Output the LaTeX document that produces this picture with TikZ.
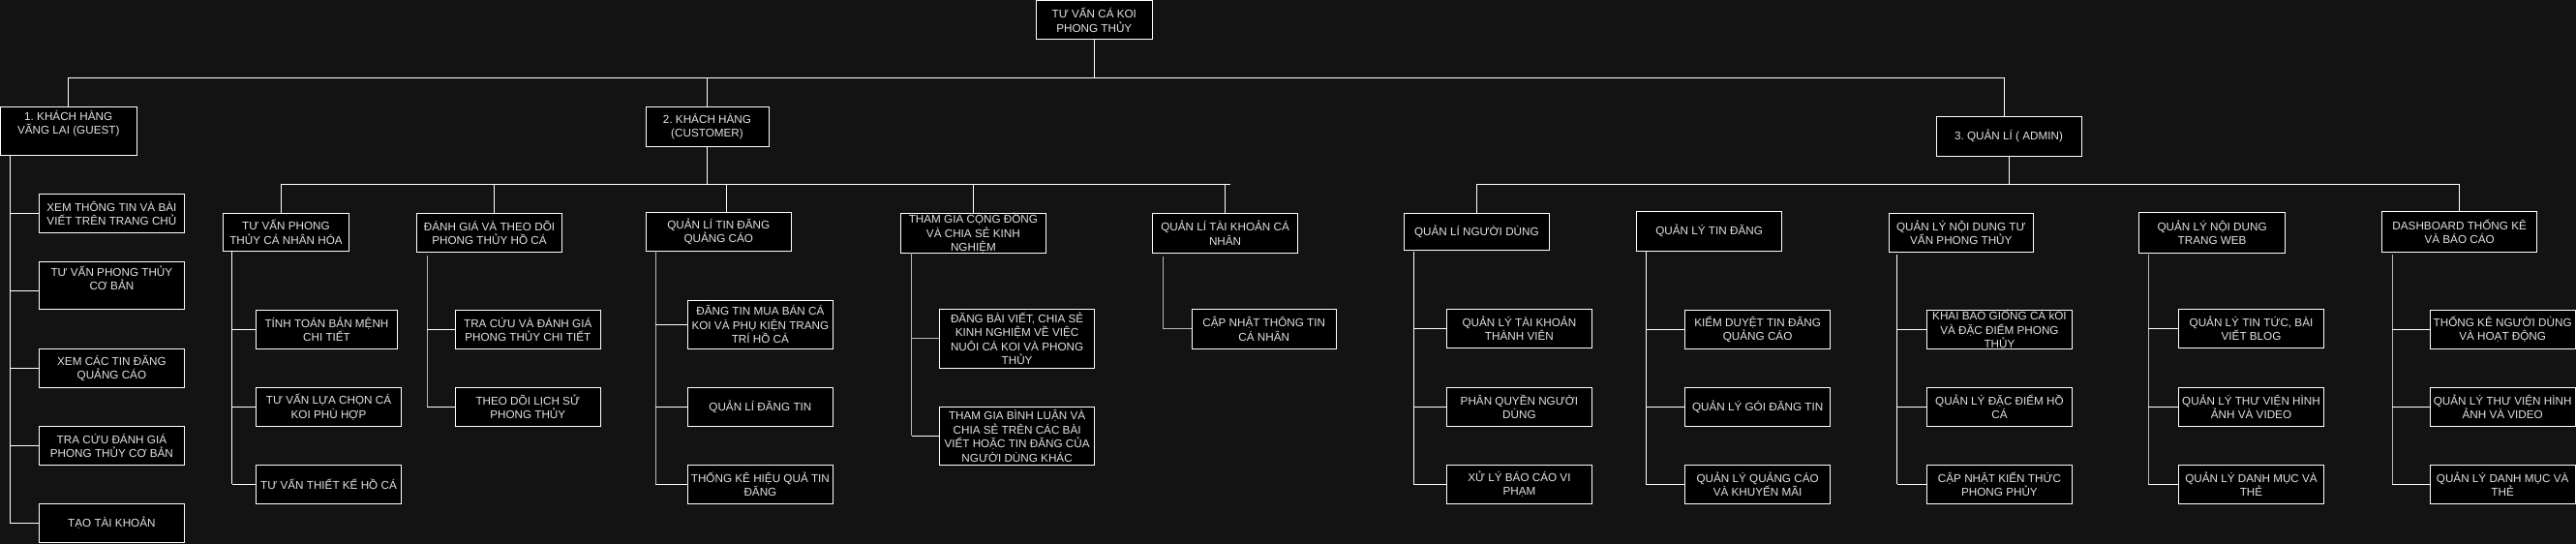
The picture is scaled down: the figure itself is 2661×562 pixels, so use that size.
\documentclass[tikz,border=0pt]{standalone}
\usepackage{fontspec}
\setmainfont{Liberation Sans}
\frenchspacing
\definecolor{bgc}{HTML}{131313}
\definecolor{txc}{HTML}{E2E2E2}
\definecolor{gln}{HTML}{B8B8B8}
\tikzset{
  bx/.style={draw=white, fill=black, line width=1pt, inner sep=0pt, outer sep=0pt, align=center, text=txc, font=\fontsize{11.7}{14.5}\selectfont\frenchspacing},
  tx/.style={inner sep=0pt, align=center, text=txc, font=\fontsize{11.7}{14.5}\selectfont\frenchspacing},
  ln/.style={draw=white, line width=1pt},
  gl/.style={draw=gln, line width=1pt}
}
\newcommand\bxn[6]{\node[bx, minimum width={(#4)-(#2)}, minimum height={(#5)-(#3)}] (#1) at ({((#2)+(#4))/2},{-((#3)+(#5))/2}) {#6};}
\begin{document}
\begin{tikzpicture}[x=1pt,y=1pt]
\useasboundingbox (0,0) rectangle (2661,-562);
\fill[bgc] (0,0) rectangle (2661,-562);

% ---- level 0 / 1
\bxn{root}{1070.3}{0.5}{1190.3}{40.7}{TƯ VẤN CÁ KOI\\PHONG THỦY}
\bxn{b1}{0.5}{110}{141}{160}{}
\node[tx] (b1t) at (70.75,-127.5) {1. KHÁCH HÀNG\\VÃNG LAI (GUEST)};
\bxn{b2}{667}{110}{794}{151}{2. KHÁCH HÀNG\\(CUSTOMER)}
\bxn{b3}{2000}{120}{2150}{161}{3. QUẢN LÍ ( ADMIN)}

\coordinate (busL) at (70.5,-80);
\coordinate (busR) at (2070.6,-80);
\draw[ln] (root.south) -- (root.south |- busL);
\draw[ln] (busL) -- (busR);
\draw[ln] (busL) -- (busL |- b1.north);
\draw[ln] (b2.north |- busL) -- (b2.north);
\draw[ln] (busR) -- (busR |- b3.north);

% ---- guest children
\bxn{g1}{40.2}{200}{190.6}{240.7}{XEM THÔNG TIN VÀ BÀI\\VIẾT TRÊN TRANG CHỦ}
\bxn{g2}{40.2}{270}{190.6}{319.3}{}
\node[tx] (g2t) at (115.4,-287.2) {TƯ VẤN PHONG THỦY\\CƠ BẢN};
\bxn{g3}{40.2}{360.3}{190.6}{400.7}{XEM CÁC TIN ĐĂNG\\QUẢNG CÁO}
\bxn{g4}{40.2}{440.3}{190.6}{480.7}{TRA CỨU ĐÁNH GIÁ\\PHONG THỦY CƠ BẢN}
\bxn{g5}{40.2}{520.3}{190.6}{560.7}{TẠO TÀI KHOẢN}
\draw[ln] ([xshift=9.8]b1.south west) coordinate (t1) -- (t1 |- g5.west);
\draw[ln] (g1.west) -- (g1.west -| t1);
\draw[ln] ([yshift=-6]g2.west) -- ([yshift=-6]g2.west -| t1);
\draw[ln] (g3.west) -- (g3.west -| t1);
\draw[ln] (g4.west) -- (g4.west -| t1);
\draw[ln] (g5.west) -- (g5.west -| t1);

% ---- customer level 2
\bxn{c1}{230.3}{220.3}{360.7}{259.7}{TƯ VẤN PHONG\\THỦY CÁ NHÂN HÓA}
\bxn{c2}{430.3}{220.3}{580.7}{260.3}{ĐÁNH GIÁ VÀ THEO DÕI\\PHONG THỦY HỒ CÁ}
\bxn{c3}{667.3}{219.3}{817.3}{259.3}{QUẢN LÍ TIN ĐĂNG\\QUẢNG CÁO}
\bxn{c4}{930.3}{220.3}{1080.5}{261.3}{THAM GIA CỘNG ĐỒNG\\VÀ CHIA SẺ KINH\\NGHIỆM}
\bxn{c5}{1190.5}{220.3}{1340.7}{261.3}{QUẢN LÍ TÀI KHOẢN CÁ\\NHÂN}

\coordinate (cbL) at (290.3,-190);
\coordinate (cbR) at (1270.5,-190);
\draw[ln] (b2.south) -- (b2.south |- cbL);
\draw[ln] (cbL) -- (cbR);
\draw[ln] (cbL) -- (cbL |- c1.north);
\draw[ln] ([xshift=4.8]c2.north |- cbL) -- ([xshift=4.8]c2.north);
\draw[ln] ([xshift=8]c3.north |- cbL) -- ([xshift=8]c3.north);
\draw[ln] (c4.north |- cbL) -- (c4.north);
\draw[ln] (c5.north |- cbL) -- (c5.north);

% c1 children
\bxn{c1a}{264.3}{320.3}{410.7}{360.3}{TÍNH TOÁN BẢN MỆNH\\CHI TIẾT}
\bxn{c1b}{264.3}{400.3}{414.7}{440.7}{TƯ VẤN LỰA CHỌN CÁ\\KOI PHÙ HỢP}
\bxn{c1c}{264.3}{480.3}{414.7}{520.3}{TƯ VẤN THIẾT KẾ HỒ CÁ}
\draw[ln] ([xshift=9.4]c1.south west) coordinate (tc1) -- (tc1 |- c1c.west);
\foreach \n in {c1a,c1b,c1c} \draw[ln] (\n.west) -- (\n.west -| tc1);

% c2 children
\bxn{c2a}{470}{320.3}{620.5}{360.7}{TRA CỨU VÀ ĐÁNH GIÁ\\PHONG THỦY CHI TIẾT}
\bxn{c2b}{470}{400.3}{620.5}{440.7}{THEO DÕI LỊCH SỬ\\PHONG THỦY}
\draw[gl] ([xshift=10.7,yshift=-3.5]c2.south west) coordinate (tc2) -- (tc2 |- c2b.west);
\foreach \n in {c2a,c2b} \draw[ln] (\n.west) -- (\n.west -| tc2);

% c3 children
\bxn{c3a}{710.3}{310.3}{860.5}{360.3}{ĐĂNG TIN MUA BÁN CÁ\\KOI VÀ PHỤ KIỆN TRANG\\TRÍ HỒ CÁ}
\bxn{c3b}{710.3}{400.3}{860.5}{440.3}{QUẢN LÍ ĐĂNG TIN}
\bxn{c3c}{710.3}{480.3}{860.5}{520.3}{THỐNG KÊ HIỆU QUẢ TIN\\ĐĂNG}
\draw[gl] ([xshift=10]c3.south west) coordinate (tc3) -- (tc3 |- c3c.west);
\foreach \n in {c3a,c3b,c3c} \draw[ln] (\n.west) -- (\n.west -| tc3);

% c4 children
\bxn{c4a}{970.5}{319.3}{1130.7}{380.3}{ĐĂNG BÀI VIẾT, CHIA SẺ\\KINH NGHIỆM VỀ VIỆC\\NUÔI CÁ KOI VÀ PHONG\\THỦY}
\bxn{c4b}{970.5}{420.3}{1130.7}{480.3}{THAM GIA BÌNH LUẬN VÀ\\CHIA SẺ TRÊN CÁC BÀI\\VIẾT HOẶC TIN ĐĂNG CỦA\\NGƯỜI DÙNG KHÁC}
\draw[gl] ([xshift=11.5]c4.south west) coordinate (tc4) -- (tc4 |- c4b.west);
\draw[gl] (c4a.west) -- (c4a.west -| tc4);
\draw[ln] (c4b.west) -- (c4b.west -| tc4);

% c5 child
\bxn{c5a}{1231}{319.3}{1380.4}{360.3}{CẬP NHẬT THÔNG TIN\\CÁ NHÂN}
\draw[gl] ([xshift=10.5,yshift=-4]c5.south west) coordinate (tc5) -- (tc5 |- c5a.west);
\draw[gl] (c5a.west) -- (c5a.west -| tc5);

% ---- admin level 2
\bxn{a1}{1450.4}{220.3}{1600.4}{258.3}{QUẢN LÍ NGƯỜI DÙNG}
\bxn{a2}{1690.6}{218.3}{1840.6}{259.3}{QUẢN LÝ TIN ĐĂNG}
\bxn{a3}{1951}{220.3}{2100.6}{260.3}{QUẢN LÝ NỘI DUNG TƯ\\VẤN PHONG THỦY}
\bxn{a4}{2209.8}{219.3}{2360.4}{261.3}{QUẢN LÝ NỘI DUNG\\TRANG WEB}
\bxn{a5}{2460.6}{218.3}{2620.7}{260.3}{DASHBOARD THỐNG KÊ\\VÀ BÁO CÁO}

\coordinate (abL) at (1525.4,-190);
\coordinate (abR) at (2540.4,-190);
\draw[ln] (b3.south) -- (b3.south |- abL);
\draw[ln] (abL) -- (abR);
\draw[ln] (abL) -- (abL |- a1.north);
\draw[ln] (abR) -- (abR |- a5.north);

% a1 children
\bxn{a1a}{1494.2}{319.3}{1644.6}{359.3}{QUẢN LÝ TÀI KHOẢN\\THÀNH VIÊN}
\bxn{a1b}{1494.2}{400.3}{1644.6}{440.3}{PHÂN QUYỀN NGƯỜI\\DÙNG}
\bxn{a1c}{1494.2}{480.3}{1644.6}{520.3}{XỬ LÝ BÁO CÁO VI\\PHẠM}
\draw[ln] ([xshift=9.9,yshift=-2]a1.south west) coordinate (ta1) -- (ta1 |- a1c.west);
\foreach \n in {a1a,a1b,a1c} \draw[ln] (\n.west) -- (\n.west -| ta1);

% a2 children
\bxn{a2a}{1740.6}{320}{1890.6}{360.7}{KIỂM DUYỆT TIN ĐĂNG\\QUẢNG CÁO}
\bxn{a2b}{1740.6}{400.3}{1890.6}{440.7}{QUẢN LÝ GÓI ĐĂNG TIN}
\bxn{a2c}{1740.6}{480.3}{1890.6}{520.3}{QUẢN LÝ QUẢNG CÁO\\VÀ KHUYẾN MÃI}
\draw[ln] ([xshift=9.8]a2.south west) coordinate (ta2) -- (ta2 |- a2c.west);
\foreach \n in {a2a,a2b,a2c} \draw[ln] (\n.west) -- (\n.west -| ta2);

% a3 children
\bxn{a3a}{1990.4}{320.3}{2140.5}{360.3}{KHAI BÁO GIỐNG CÁ kOI\\VÀ ĐẶC ĐIỂM PHONG\\THỦY}
\bxn{a3b}{1990.4}{400.3}{2140.5}{440.3}{QUẢN LÝ ĐẶC ĐIỂM HỒ\\CÁ}
\bxn{a3c}{1990.4}{480.3}{2140.5}{520.3}{CẬP NHẬT KIẾN THỨC\\PHONG PHỦY}
\draw[ln] ([xshift=8.5,yshift=-3]a3.south west) coordinate (ta3) -- (ta3 |- a3c.west);
\foreach \n in {a3a,a3b,a3c} \draw[ln] (\n.west) -- (\n.west -| ta3);

% a4 children
\bxn{a4a}{2250.2}{319.3}{2400.8}{359.3}{QUẢN LÝ TIN TỨC, BÀI\\VIẾT BLOG}
\bxn{a4b}{2250.2}{400.3}{2400.8}{440.3}{QUẢN LÝ THƯ VIỆN HÌNH\\ẢNH VÀ VIDEO}
\bxn{a4c}{2250.2}{480.3}{2400.8}{520.3}{QUẢN LÝ DANH MỤC VÀ\\THẺ}
\draw[gl] ([xshift=9.2,yshift=-2]a4.south west) coordinate (ta4) -- (ta4 |- a4c.west);
\foreach \n in {a4a,a4b,a4c} \draw[ln] (\n.west) -- (\n.west -| ta4);

% a5 children
\bxn{a5a}{2510.3}{320.3}{2660}{360.3}{THỐNG KÊ NGƯỜI DÙNG\\VÀ HOẠT ĐỘNG}
\bxn{a5b}{2510.3}{400.3}{2660}{440.3}{QUẢN LÝ THƯ VIỆN HÌNH\\ẢNH VÀ VIDEO}
\bxn{a5c}{2510.3}{480.3}{2660}{520.3}{QUẢN LÝ DANH MỤC VÀ\\THẺ}
\draw[gl] ([xshift=10.4,yshift=-3]a5.south west) coordinate (ta5) -- (ta5 |- a5c.west);
\foreach \n in {a5a,a5b,a5c} \draw[ln] (\n.west) -- (\n.west -| ta5);
\end{tikzpicture}
\end{document}
